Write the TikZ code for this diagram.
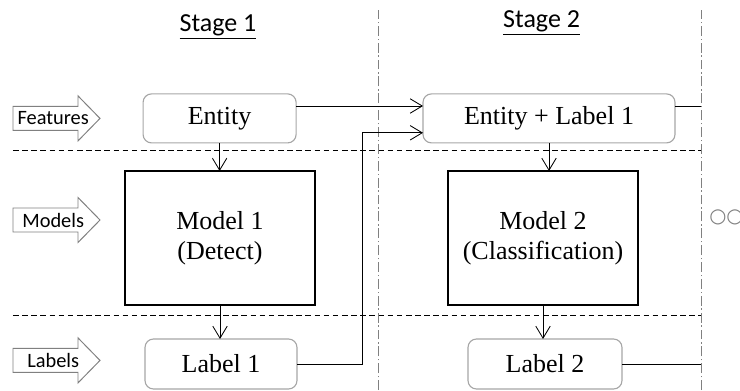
\documentclass[tikz,border=0pt]{standalone}
\usepackage{fontspec}
\setmainfont{Liberation Serif}
\newfontfamily\sanslabel{Carlito}
\newfontfamily\dotfont{DejaVu Sans}
\usetikzlibrary{arrows.meta}
\begin{document}
\begin{tikzpicture}[
        >={Straight Barb[length=3mm,width=3.6mm]},
        flow/.style={line width=0.6pt},
        roundbox/.style={draw=gray!70,line width=0.8pt,rounded corners=6pt,outer sep=0pt,
            minimum height=1.225cm,font=\fontsize{18.5}{22}\selectfont},
        modelbox/.style={draw,line width=0.8pt,outer sep=0pt,minimum width=4.75cm,minimum height=3.35cm,
            align=center,font=\fontsize{18.5}{21.5}\selectfont},
        rowsep/.style={dash pattern=on 4pt off 2.5pt,line width=0.7pt},
        stagesep/.style={gray,dash pattern=on 7pt off 2pt on 1pt off 2pt,line width=0.6pt},
        rowarrow/.style={draw=gray,line width=0.7pt,fill=white},
        rowname/.style={font=\sanslabel\fontsize{14.5}{17}\selectfont},
        stagetitle/.style={font=\sanslabel\fontsize{18.5}{22}\selectfont}
    ]
        \useasboundingbox (0,0) rectangle (18.5,9.75);
        % stage borders and row separators
        \draw [stagesep] (9.45,0) -- (9.45,9.5);
        \draw [stagesep] (17.525,0) -- (17.525,9.5);
        \draw [rowsep] (0.325,6) -- (17.525,6);
        \draw [rowsep] (0.325,1.875) -- (17.525,1.875);
        \node (stage1) at (5.45,9.075) [stagetitle] {\underline{Stage 1}};
        \node (stage2) at (13.54,9.175) [stagetitle] {\underline{Stage 2}};
        % row arrows
        \foreach \y/\name/\txt in {6.79/features/Features,4.25/models/Models,0.74/labels/Labels} {
            \draw [rowarrow] (0.325,\y-0.3) -- (1.95,\y-0.3) -- (1.95,\y-0.5625) -- (2.5,\y)
                -- (1.95,\y+0.5625) -- (1.95,\y+0.3) -- (0.325,\y+0.3) -- cycle;
            \node (\name) at (1.33,\y) [rowname] {\txt};
        }
        % stage 1
        \node (entity) at (5.49,6.79) [roundbox,minimum width=3.825cm] {Entity};
        \node (model1) at (5.5,3.8) [modelbox] {Model 1\\(Detect)};
        \node (label1) at (5.525,0.65) [roundbox,minimum width=3.8cm,minimum height=1.25cm] {Label 1};
        % stage 2
        \node (entlabel) at (13.725,6.79) [roundbox,minimum width=6.3cm] {Entity + Label 1};
        \node (model2) at (13.575,3.8) [modelbox] {Model 2\\(Classification)};
        \node (label2) at (13.625,0.65) [roundbox,minimum width=3.85cm,minimum height=1.25cm] {Label 2};
        \node (more) at (17.725,4.325) [anchor=west,inner sep=0pt,text=gray,font=\dotfont\fontsize{14}{16}\selectfont] {○○○};
        % connectors
        \draw [flow,->] (entity.south) -- (entity.south |- model1.north);
        \draw [flow,->] (model1.south) -- (model1.south |- label1.north);
        \draw [flow,->] (entlabel.south) -- (entlabel.south |- model2.north);
        \draw [flow,->] (model2.south) -- (model2.south |- label2.north);
        \draw [flow,->] ([yshift=0.31cm]entity.east) -- ([yshift=0.31cm]entlabel.west);
        \draw [flow,->] (label1.east) -| ([xshift=-1.525cm,yshift=-0.36cm]entlabel.west) -- ([yshift=-0.36cm]entlabel.west);
        \draw [flow] ([yshift=0.31cm]entlabel.east) -- ++(0.65,0);
        \draw [flow] (label2.east) -- ++(1.975,0);
    \end{tikzpicture}
\end{document}
